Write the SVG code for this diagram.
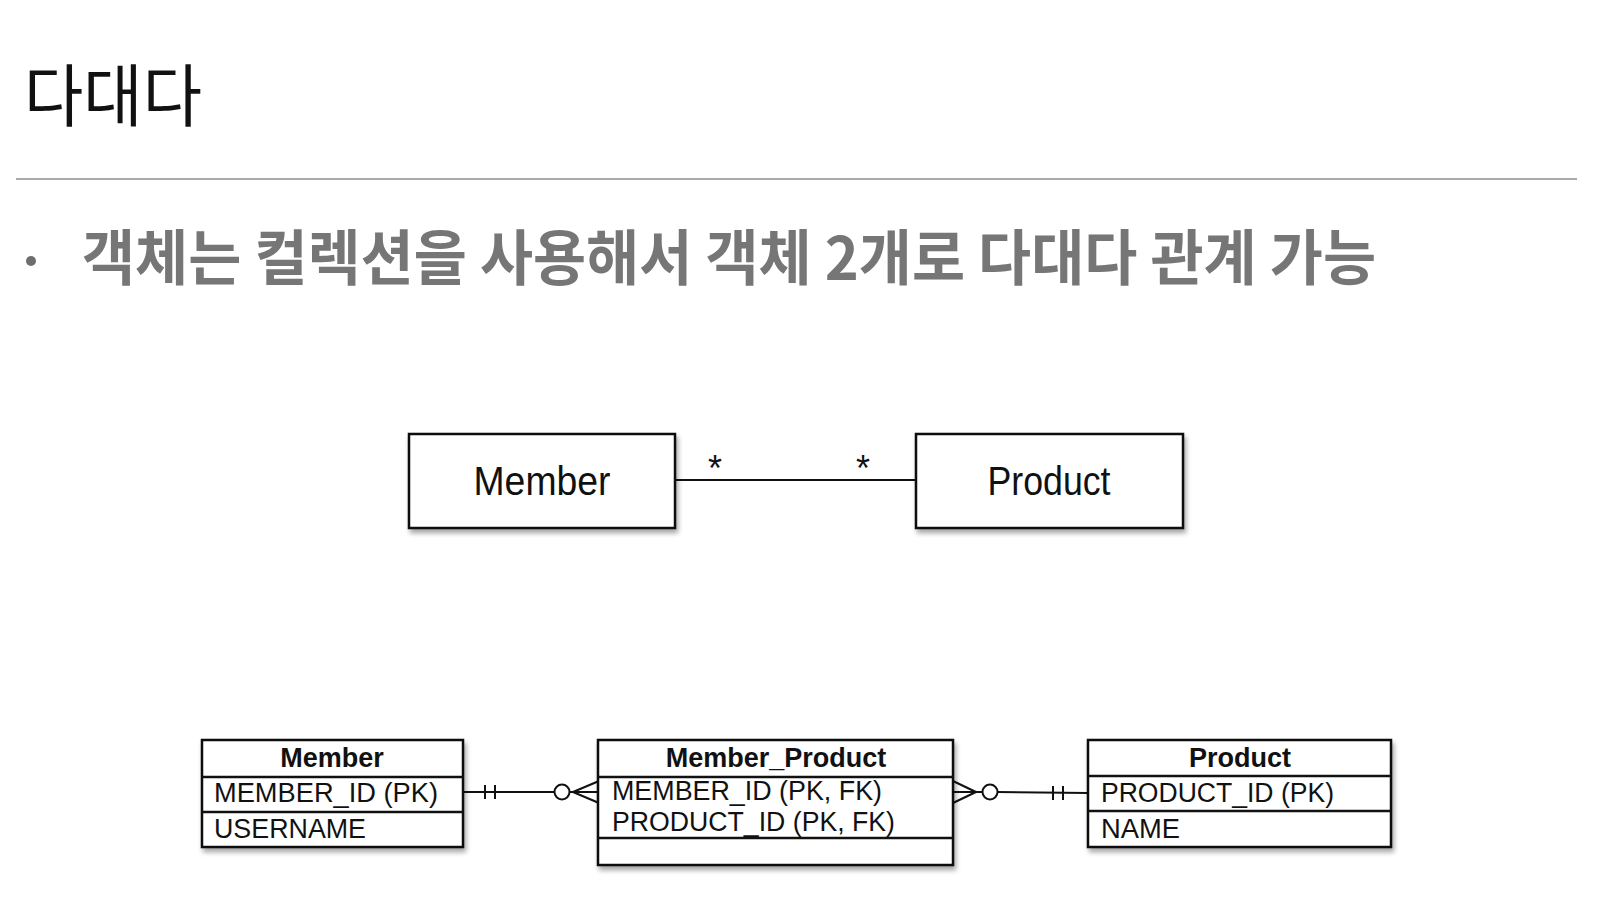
<svg xmlns="http://www.w3.org/2000/svg" width="1600" height="924" viewBox="0 0 1600 924">
<defs>
<filter id="sh" x="-10%" y="-10%" width="130%" height="140%">
<feGaussianBlur in="SourceAlpha" stdDeviation="2.5"/>
<feOffset dx="2" dy="4" result="b"/>
<feComponentTransfer><feFuncA type="linear" slope="0.35"/></feComponentTransfer>
<feMerge><feMergeNode/><feMergeNode in="SourceGraphic"/></feMerge>
</filter>
<style>
.box{fill:#fff;stroke:#111;stroke-width:2.5}
.sep{stroke:#111;stroke-width:2.5}
.ln{stroke:#111;stroke-width:2;fill:none}
.uml{font-family:"Liberation Sans",Arial,sans-serif;font-size:40px;fill:#111;text-anchor:middle}
.er{font-family:"Liberation Sans",Arial,sans-serif;font-size:27px;fill:#111}
.erh{font-family:"Liberation Sans",Arial,sans-serif;font-size:27px;font-weight:bold;fill:#111;text-anchor:middle}
.star{font-family:"Liberation Sans",Arial,sans-serif;font-size:36px;fill:#111;text-anchor:middle}
</style>
</defs>
<rect width="1600" height="924" fill="#fff"/>
<g id="title">
<text x="24" y="121" font-family="'Noto Sans CJK KR','Noto Sans',sans-serif" font-size="68" fill="#111" textLength="178" lengthAdjust="spacingAndGlyphs">다대다</text>
<line x1="16" y1="179" x2="1577" y2="179" stroke="#aaa" stroke-width="2"/>
</g>
<g id="bullet">
<circle cx="31" cy="261" r="5" fill="#6e6e6e"/>
<text x="82" y="280" font-family="'Noto Sans CJK KR','Noto Sans',sans-serif" font-size="60" font-weight="bold" fill="#767676" textLength="1294" lengthAdjust="spacingAndGlyphs">객체는 컬렉션을 사용해서 객체 2개로 다대다 관계 가능</text>
</g>
<g id="connectors">
<line class="ln" x1="675" y1="480" x2="916" y2="480"/>
<text class="star" x="715" y="481">*</text>
<text class="star" x="863" y="481">*</text>
<line class="ln" x1="463" y1="792" x2="554.5" y2="792"/>
<line class="ln" x1="485" y1="785" x2="485" y2="799"/>
<line class="ln" x1="495" y1="785" x2="495" y2="799"/>
<circle class="ln" cx="562" cy="792" r="7.5" fill="#fff"/>
<line class="ln" x1="569.5" y1="792" x2="599" y2="792"/>
<line class="ln" x1="573" y1="792" x2="599" y2="781"/>
<line class="ln" x1="573" y1="792" x2="599" y2="803"/>
<line class="ln" x1="953" y1="792" x2="982.5" y2="792"/>
<line class="ln" x1="953" y1="781" x2="976" y2="792"/>
<line class="ln" x1="953" y1="803" x2="976" y2="792"/>
<circle class="ln" cx="990" cy="792" r="7.5" fill="#fff"/>
<line class="ln" x1="997.5" y1="792" x2="1088" y2="793"/>
<line class="ln" x1="1053" y1="786" x2="1053" y2="800"/>
<line class="ln" x1="1063" y1="786" x2="1063" y2="800"/>
</g>
<g id="uml-member">
<rect class="box" x="409" y="434" width="266" height="94" filter="url(#sh)"/>
<text class="uml" x="542" y="495" textLength="137" lengthAdjust="spacingAndGlyphs">Member</text>
</g>
<g id="uml-product">
<rect class="box" x="916" y="434" width="267" height="94" filter="url(#sh)"/>
<text class="uml" x="1049" y="495" textLength="123" lengthAdjust="spacingAndGlyphs">Product</text>
</g>
<g id="er-member">
<rect class="box" x="202" y="740" width="261" height="107" filter="url(#sh)"/>
<line class="sep" x1="202" y1="777" x2="463" y2="777"/>
<line class="sep" x1="202" y1="812" x2="463" y2="812"/>
<text class="erh" x="332" y="767">Member</text>
<text class="er" x="214" y="802" textLength="224" lengthAdjust="spacingAndGlyphs">MEMBER_ID (PK)</text>
<text class="er" x="214" y="838" textLength="152" lengthAdjust="spacingAndGlyphs">USERNAME</text>
</g>
<g id="er-member-product">
<rect class="box" x="598" y="740" width="355" height="125" filter="url(#sh)"/>
<line class="sep" x1="598" y1="777" x2="953" y2="777"/>
<line class="sep" x1="598" y1="838" x2="953" y2="838"/>
<text class="erh" x="776" y="767">Member_Product</text>
<text class="er" x="612" y="800" textLength="270" lengthAdjust="spacingAndGlyphs">MEMBER_ID (PK, FK)</text>
<text class="er" x="612" y="831" textLength="283" lengthAdjust="spacingAndGlyphs">PRODUCT_ID (PK, FK)</text>
</g>
<g id="er-product">
<rect class="box" x="1088" y="740" width="303" height="107" filter="url(#sh)"/>
<line class="sep" x1="1088" y1="776" x2="1391" y2="776"/>
<line class="sep" x1="1088" y1="811" x2="1391" y2="811"/>
<text class="erh" x="1240" y="767">Product</text>
<text class="er" x="1101" y="802" textLength="233" lengthAdjust="spacingAndGlyphs">PRODUCT_ID (PK)</text>
<text class="er" x="1101" y="838" textLength="79" lengthAdjust="spacingAndGlyphs">NAME</text>
</g>
</svg>
